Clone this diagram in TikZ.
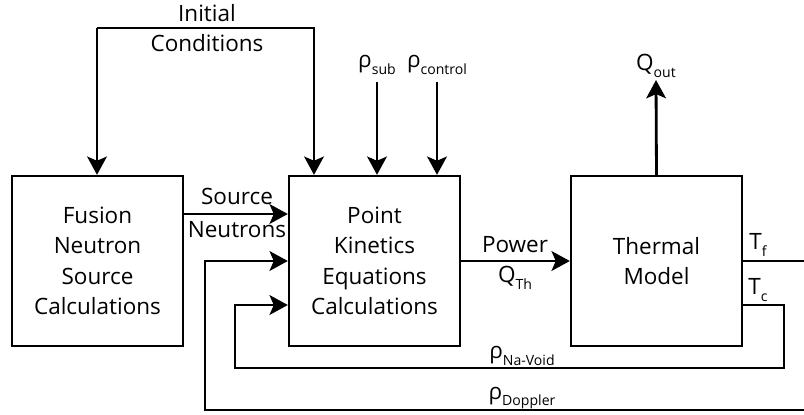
\documentclass[tikz,border=0pt]{standalone}
\usepackage{fontspec}
\setmainfont{Open Sans}
\usetikzlibrary{arrows.meta}
\newcommand{\lowsub}[1]{\raisebox{-0.55ex}{\fontsize{10}{10}\selectfont #1}}
\tikzset{
  block/.style={draw, line width=1.6pt, minimum width=4.275cm, minimum height=4.25cm, align=center, inner sep=0pt},
  flow/.style={line width=2pt, -{Stealth[length=13pt,width=14pt,inset=3pt]}},
  wire/.style={line width=2pt},
  lbl/.style={align=center, inner sep=0pt},
}

\begin{document}
\begin{tikzpicture}[x=0.025cm, y=-0.025cm, font=\fontsize{16}{21.6}\selectfont]
\useasboundingbox (0,0) rectangle (804,415);
% blocks
\node[block] (fusion) at (97.5,261) {Fusion\\Neutron\\Source\\Calculations};
\node[block] (pke) at (374.5,261) {Point\\Kinetics\\Equations\\Calculations};
\node[block] (thermal) at (656.5,261) {Thermal\\Model};
% initial conditions
\coordinate (icl) at (97,28);
\coordinate (icr) at (314,28);
\draw[flow] (icl) -- (icl |- fusion.north);
\draw[flow] (icl) -- (icr) -- (icr |- pke.north);
\node[lbl] (ic) at (207,28) {Initial\\Conditions};
% reactivity inputs
\coordinate (rsub) at (377,82);
\coordinate (rctl) at (437,82);
\draw[flow] (rsub) -- (rsub |- pke.north);
\draw[flow] (rctl) -- (rctl |- pke.north);
\node[lbl] (rsublbl) at (377,65) {ρ\lowsub{sub}};
\node[lbl] (rctllbl) at (437,65) {ρ\lowsub{control}};
% heat out
\coordinate (qout) at (656,80);
\draw[flow] (thermal.north) -- (qout);
\node[lbl] (qoutlbl) at (656,66) {Q\lowsub{out}};
% source neutrons
\coordinate (sn) at (183,214);
\draw[flow] (sn) -- (sn -| pke.west);
\node[lbl] (snlbl) at (237,213) {Source\\[2pt]Neutrons};
% power
\draw[flow] (pke.east) -- (thermal.west);
\node[lbl] (pow) at (515,245) {Power};
\node[lbl] (qth) at (515,278) {Q\lowsub{Th}};
% temperatures
\coordinate (tf) at (804,261);
\draw[wire] (thermal.east) -- (tf);
\node[lbl] (tflbl) at (758,245) {T\lowsub{f}};
\node[lbl] (tclbl) at (758,290) {T\lowsub{c}};
% Na-void feedback
\coordinate (tc) at (742,305);
\coordinate (nv1) at (784,368);
\coordinate (nv2) at (235,305);
\draw[flow] (tc) -| (nv1) -| (nv2) -- (nv2 -| pke.west);
\node[lbl] (nvlbl) at (522,356) {ρ\lowsub{Na-Void}};
% Doppler feedback
\coordinate (dp1) at (804,410);
\coordinate (dp2) at (205,261);
\draw[flow] (dp1) -| (dp2) -- (dp2 -| pke.west);
\node[lbl] (dplbl) at (522,398) {ρ\lowsub{Doppler}};
\end{tikzpicture}
\end{document}
